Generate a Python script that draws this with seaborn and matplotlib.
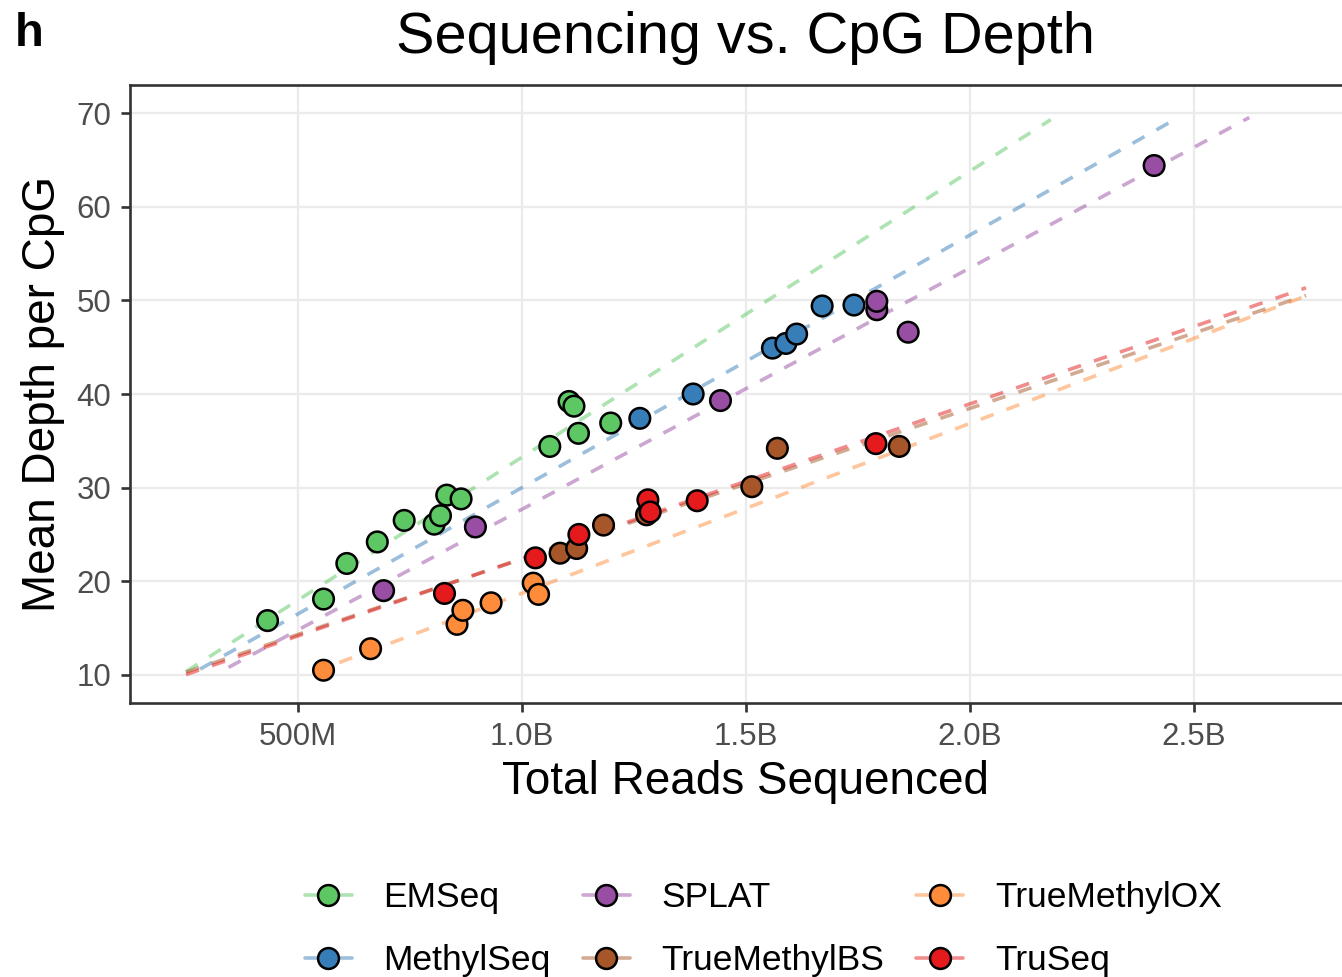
import matplotlib
matplotlib.use("Agg")
import matplotlib.pyplot as plt
import numpy as np
import pandas as pd
import seaborn as sns
from matplotlib.lines import Line2D
from matplotlib.ticker import FuncFormatter

# total reads in billions, mean depth per CpG
emseq_reads = [0.432, 0.557, 0.609, 0.677, 0.737, 0.804, 0.818, 0.832, 0.864, 1.062, 1.105, 1.116, 1.126, 1.198]
emseq_depth = [15.8, 18.1, 21.9, 24.2, 26.5, 26.1, 27.0, 29.2, 28.8, 34.4, 39.2, 38.7, 35.8, 36.9]

methylseq_reads = [1.263, 1.382, 1.559, 1.589, 1.613, 1.670, 1.741]
methylseq_depth = [37.4, 40.0, 44.9, 45.4, 46.4, 49.4, 49.5]

splat_reads = [0.691, 0.896, 1.443, 1.792, 1.792, 1.862, 2.411]
splat_depth = [19.0, 25.8, 39.3, 49.0, 49.9, 46.6, 64.4]

truemethylbs_reads = [1.085, 1.122, 1.182, 1.278, 1.513, 1.570, 1.842]
truemethylbs_depth = [23.0, 23.5, 26.0, 27.1, 30.1, 34.2, 34.4]

truemethylox_reads = [0.557, 0.662, 0.855, 0.868, 0.931, 1.025, 1.037]
truemethylox_depth = [10.5, 12.8, 15.4, 16.9, 17.7, 19.8, 18.6]

truseq_reads = [0.827, 1.030, 1.127, 1.281, 1.286, 1.391, 1.790]
truseq_depth = [18.7, 22.5, 25.0, 28.7, 27.4, 28.6, 34.7]

methods = ["EMSeq", "MethylSeq", "SPLAT", "TrueMethylBS", "TrueMethylOX", "TruSeq"]
colors = ["#5DC863", "#377EB8", "#984EA3", "#A65628", "#FF8C3A", "#E41A1C"]

x_ticks = [0.5, 1.0, 1.5, 2.0, 2.5]
y_ticks = [10, 20, 30, 40, 50, 60, 70]


def fmt_reads(v, pos):
    if v < 1:
        return f"{v * 1000:.0f}M"
    return f"{v:.1f}B"


def main():
    sns.set_theme(style="white")
    plt.rcParams["font.family"] = ["Liberation Sans", "DejaVu Sans"]
    plt.rcParams["text.color"] = "black"
    plt.rcParams["axes.labelcolor"] = "black"

    groups = {
        "EMSeq": (emseq_reads, emseq_depth),
        "MethylSeq": (methylseq_reads, methylseq_depth),
        "SPLAT": (splat_reads, splat_depth),
        "TrueMethylBS": (truemethylbs_reads, truemethylbs_depth),
        "TrueMethylOX": (truemethylox_reads, truemethylox_depth),
        "TruSeq": (truseq_reads, truseq_depth),
    }
    df = pd.concat(
        [pd.DataFrame({"reads": r, "depth": d, "method": m}) for m, (r, d) in groups.items()],
        ignore_index=True,
    )
    palette = dict(zip(methods, colors))

    fig = plt.figure(figsize=(13.42, 9.77), dpi=100)
    ax = fig.add_axes([130 / 1342, 1 - 703 / 977, 1232 / 1342, 618 / 977])

    # fullrange linear fits, dropped outside the y scale limits
    grid = np.linspace(0.25, 2.75, 80)
    for m in methods:
        sub = df[df["method"] == m]
        slope, icpt = np.polyfit(sub["reads"], sub["depth"], 1)
        fit = slope * grid + icpt
        fit = np.where((fit >= 10) & (fit <= 70), fit, np.nan)
        ax.plot(grid, fit, color=palette[m], lw=2.6, alpha=0.5,
                dashes=(3.8, 3.8), zorder=2)

    sns.scatterplot(data=df, x="reads", y="depth", hue="method", palette=palette,
                    hue_order=methods, s=220, edgecolor="black", linewidth=1.8,
                    legend=False, ax=ax, zorder=3)

    ax.set_xlim(0.125, 2.875)
    ax.set_ylim(7, 73)
    ax.set_xticks(x_ticks)
    ax.set_yticks(y_ticks)
    ax.xaxis.set_major_formatter(FuncFormatter(fmt_reads))
    ax.grid(True, color="#EBEBEB", lw=1.7, zorder=0)
    ax.set_axisbelow(True)
    for sp in ax.spines.values():
        sp.set_color("#333333")
        sp.set_linewidth(1.9)
    ax.tick_params(axis="both", length=6.5, width=1.9, color="#333333",
                   labelsize=22.5, labelcolor="#4D4D4D", pad=7, direction="out",
                   bottom=True, left=True)
    ax.set_xlabel("Total Reads Sequenced", fontsize=33, color="black", labelpad=6)
    ax.set_ylabel("Mean Depth per CpG", fontsize=33, color="black", labelpad=8)

    fig.text(745 / 1342, 1 - 53 / 977, "Sequencing vs. CpG Depth", fontsize=41.5,
             color="black", ha="center", va="baseline")
    fig.text(15 / 1342, 1 - 46.5 / 977, "h", fontsize=34, fontweight="bold",
             color="black", ha="left", va="baseline")

    light = [tuple(0.5 * np.array(matplotlib.colors.to_rgb(c)) + 0.5) for c in colors]
    handles = [
        Line2D([0], [0], color=lc, lw=2.6, marker="o", markersize=15,
               markerfacecolor=c, markeredgecolor="black", markeredgewidth=1.8)
        for c, lc in zip(colors, light)
    ]
    leg = fig.legend(handles, methods, loc="center left",
                     bbox_to_anchor=(305 / 1342, 1 - 929 / 977),
                     ncol=3, frameon=False, fontsize=25.5, handlelength=1.32,
                     handletextpad=0.9, columnspacing=0.9, labelspacing=0.85,
                     borderpad=0, borderaxespad=0)
    for t in leg.get_texts():
        t.set_color("black")

    fig.savefig("out.png", dpi=100)
    plt.close(fig)


if __name__ == "__main__":
    main()
